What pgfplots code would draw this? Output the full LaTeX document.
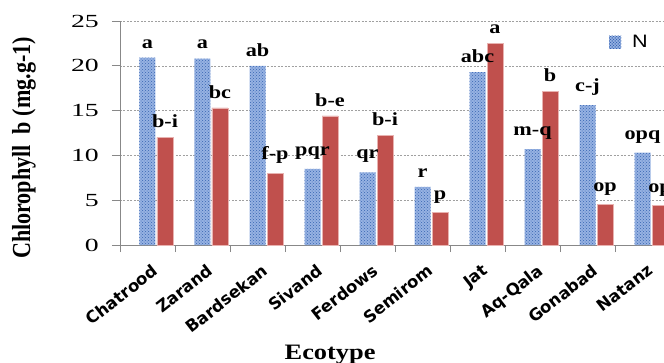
\documentclass[border=0pt]{standalone}
\usepackage{pgfplots}
\pgfplotsset{compat=1.18}
\usetikzlibrary{patterns}
\usepackage{fontspec}
\setmainfont{Liberation Serif}
\newfontfamily\lblfont[FakeStretch=1.2]{Liberation Serif}
\newfontfamily\tickfont[FakeStretch=1.5]{Liberation Serif}
\newfontfamily\ylabfont[FakeStretch=0.85]{Liberation Serif}
\newfontfamily\catfont{DejaVu Sans}
\newfontfamily\legfont[FakeStretch=1.2]{Liberation Sans}
\definecolor{redC}{RGB}{192,80,77}
\definecolor{redE}{RGB}{232,178,176}
\definecolor{blueL}{RGB}{150,178,226}
\definecolor{blueD}{RGB}{55,100,178}
\definecolor{axgray}{RGB}{136,136,136}
\definecolor{gridgray}{RGB}{160,160,160}
\begin{document}
\begin{tikzpicture}
\begin{axis}[
  at={(0,0)}, anchor=south west,
  scale only axis, width=550pt, height=224pt,
  xmin=-0.5, xmax=9.5, ymin=0, ymax=25,
  ybar=1.5pt, bar width=16pt,
  axis lines*=left,
  axis line style={-, axgray, line width=0.8pt},
  tick align=outside,
  xtick={0,...,9},
  xticklabels={Chatrood, Zarand, Bardsekan, Sivand, Ferdows, Semirom, Jat, Aq-Qala, Gonabad, Natanz},
  major x tick style={draw=none},
  minor xtick={-0.5,0.5,...,9.5},
  minor x tick style={axgray, line width=0.8pt},
  minor tick length=7pt,
  ytick={0,5,...,25},
  y tick style={axgray, line width=0.8pt},
  major tick length=8pt,
  ymajorgrids,
  grid style={gridgray, dash pattern=on 2pt off 1.5pt, line width=0.6pt},
  /pgf/number format/assume math mode=true,
  yticklabel style={font=\tickfont\fontsize{18.5}{20}\selectfont, inner sep=0pt, xshift=-13pt},
  xticklabel style={font=\catfont\bfseries\fontsize{16.5}{18}\selectfont, xshift=4pt, yshift=-10pt, rotate=38, anchor=north east, inner sep=0pt},
  xlabel={Ecotype},
  xlabel style={font=\lblfont\bfseries\fontsize{22}{24}\selectfont, at={(rel axis cs:0.382,-0.513)}, anchor=base, inner sep=0pt},
  ylabel={Chlorophyll\ \ b (mg.g-1)},
  ylabel style={font=\ylabfont\bfseries\fontsize{26}{28}\selectfont, at={(rel axis cs:-0.1745,0.433)}, anchor=center, inner sep=0pt},
  point meta=explicit symbolic,
  nodes near coords={\pgfplotspointmeta},
  nodes near coords style={font=\lblfont\bfseries\fontsize{18.5}{20}\selectfont, anchor=south, yshift=6pt, text=black},
  legend style={at={(rel axis cs:0.889,0.906)}, anchor=west, draw=none, fill=white, inner sep=0pt,
     font=\legfont\fontsize{18}{20}\selectfont, nodes={inner sep=0pt},
     /tikz/every odd column/.append style={column sep=11pt}},
  legend cell align=left,
]
\addplot[fill=blueL, draw=none, postaction={pattern=crosshatch dots, pattern color=blueD},
  legend image code/.code={\fill[blueL] (0pt,-6.5pt) rectangle (12pt,6.5pt);
     \fill[pattern=crosshatch dots, pattern color=blueD] (0pt,-6.5pt) rectangle (12pt,6.5pt);}]
coordinates {
(0,20.9) [a]
(1,20.8) [a]
(2,20.0) [ab]
(3,8.5) [pqr]
(4,8.1) [qr]
(5,6.5) [r]
(6,19.3) [abc]
(7,10.7) [m-q]
(8,15.6) [c-j]
(9,10.3) [opq]
};
\addlegendentry{N}
\addplot[fill=redC, draw=redE, line width=0.6pt, forget plot]
coordinates {
(0,12.0) [b-i]
(1,15.3) [bc]
(2,8.0) [f-p]
(3,14.4) [b-e]
(4,12.2) [b-i]
(5,3.6) [p]
(6,22.5) [a]
(7,17.1) [b]
(8,4.5) [op]
(9,4.4) [op]
};
\end{axis}
\pgfresetboundingbox
\path[use as bounding box] (-120pt,-117pt) rectangle (544pt,245pt);
\end{tikzpicture}
\end{document}
